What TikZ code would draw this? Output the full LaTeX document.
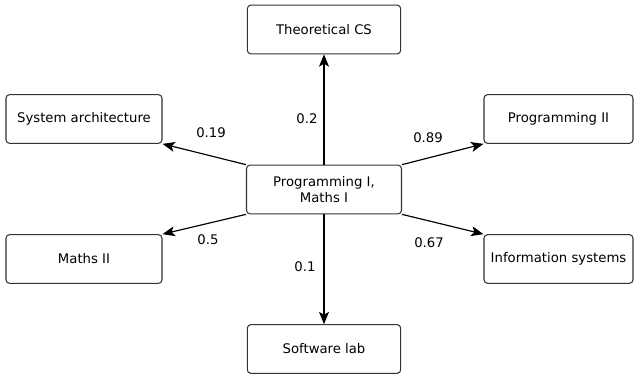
\documentclass[tikz,border=0pt]{standalone}
\usepackage{fontspec}
\setmainfont{DejaVu Sans}
\usetikzlibrary{arrows.meta}

\begin{document}
\begin{tikzpicture}[x=0.03cm,y=-0.03cm,font=\fontsize{11.3}{13.5}\selectfont,
  course/.style={draw=black!80,line width=0.9pt,rounded corners=3pt,minimum width=#1,minimum height=1.46cm,inner sep=2pt,align=center},
  course/.default=4.6cm,
  edge/.style={line width=1pt,-{Stealth[length=10.5pt,width=8.5pt,inset=2.5pt]}},
  weight/.style={inner sep=1pt}]
  \useasboundingbox (0,0) rectangle (639,379);
  % courses
  \node[course=4.65cm](prog1) at (324,189.5){Programming I,\\Maths I};
  \node[course](theo) at (324,29.5){Theoretical CS};
  \node[course=4.68cm](sysarch) at (84,119){System architecture};
  \node[course=4.47cm](prog2) at (558.5,119){Programming II};
  \node[course=4.68cm](maths2) at (84,259){Maths II};
  \node[course=4.47cm](infosys) at (558.5,259){Information systems};
  \node[course](swlab) at (324,349){Software lab};
  % edges
  \draw[edge] (prog1.north) -- (theo.south);
  \draw[edge] (prog1.south) -- (swlab.north);
  \draw[edge] (prog1.north west) -- (sysarch.south east);
  \draw[edge] (prog1.north east) -- (prog2.south west);
  \draw[edge] (prog1.south west) -- (maths2.north east);
  \draw[edge] (prog1.south east) -- (infosys.north west);
  % weights
  \node[weight](w1) at (211,133){0.19};
  \node[weight](w2) at (307,119){0.2};
  \node[weight](w3) at (428,138){0.89};
  \node[weight](w4) at (208,240){0.5};
  \node[weight](w5) at (305,267){0.1};
  \node[weight](w6) at (429,243){0.67};
\end{tikzpicture}
\end{document}
